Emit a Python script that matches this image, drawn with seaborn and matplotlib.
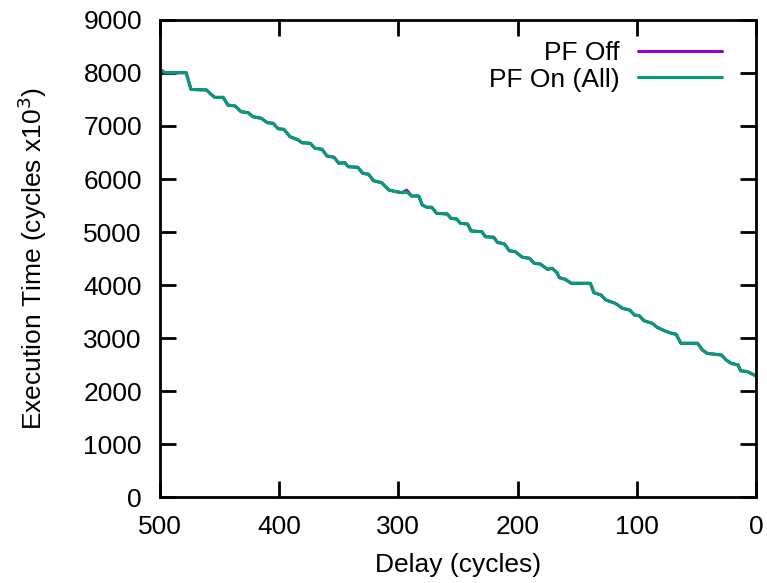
import matplotlib
matplotlib.use("Agg")
import matplotlib.pyplot as plt
import seaborn as sns
import pandas as pd

# delay (cycles) and execution time (cycles x10^3)
delay = [500, 498, 496, 478, 474, 461, 458, 454, 447, 443, 437, 432, 426, 422,
         415, 410, 405, 401, 396, 391, 384, 381, 374, 370, 364, 360, 354, 350,
         345, 342, 334, 330, 325, 321, 314, 308, 302, 297, 293, 289, 283, 280,
         276, 272, 268, 259, 256, 251, 248, 242, 239, 230, 227, 220, 217, 211,
         207, 202, 196, 190, 186, 181, 175, 171, 167, 165, 160, 155, 139, 136,
         130, 126, 118, 112, 106, 102, 98, 94, 87, 83, 77, 71, 67, 63, 49, 45,
         41, 29, 25, 21, 15, 13, 7, 0]

pf_off = [8050, 8040, 8005, 8005, 7690, 7680, 7615, 7540, 7540, 7395, 7378, 7270,
          7250, 7175, 7145, 7062, 7050, 6950, 6935, 6800, 6736, 6685, 6673, 6580,
          6560, 6435, 6410, 6296, 6308, 6232, 6221, 6108, 6090, 5968, 5930, 5792,
          5761, 5742, 5790, 5680, 5679, 5509, 5466, 5466, 5353, 5340, 5258, 5245,
          5164, 5151, 5019, 5006, 4911, 4900, 4806, 4774, 4647, 4628, 4523, 4504,
          4409, 4396, 4296, 4315, 4232, 4138, 4107, 4032, 4032, 3855, 3811, 3717,
          3654, 3560, 3528, 3434, 3420, 3326, 3277, 3202, 3138, 3089, 3070, 2900,
          2900, 2774, 2711, 2679, 2585, 2523, 2491, 2383, 2364, 2283]

pf_on = [8050, 8040, 8005, 8005, 7690, 7680, 7615, 7540, 7540, 7395, 7378, 7270,
         7250, 7175, 7145, 7062, 7050, 6950, 6935, 6800, 6736, 6685, 6673, 6580,
         6560, 6435, 6410, 6296, 6308, 6232, 6221, 6108, 6090, 5968, 5930, 5792,
         5761, 5742, 5755, 5680, 5679, 5509, 5466, 5466, 5353, 5340, 5258, 5245,
         5164, 5151, 5019, 5006, 4911, 4900, 4806, 4774, 4647, 4628, 4523, 4504,
         4409, 4396, 4296, 4315, 4232, 4138, 4107, 4032, 4032, 3855, 3811, 3717,
         3654, 3560, 3528, 3434, 3420, 3326, 3277, 3202, 3138, 3089, 3070, 2900,
         2900, 2774, 2711, 2679, 2585, 2523, 2491, 2383, 2364, 2283]

series = ["PF Off", "PF On (All)"]
colors = ["#9400D3", "#009E73"]

df = pd.concat([
    pd.DataFrame({"Delay": delay, "Time": pf_off, "Series": series[0]}),
    pd.DataFrame({"Delay": delay, "Time": pf_on, "Series": series[1]}),
])

sns.set_style("ticks")
plt.rcParams["font.family"] = ["Liberation Sans", "DejaVu Sans"]
plt.rcParams["text.color"] = "black"
plt.rcParams["axes.labelcolor"] = "black"
fs = 19

fig = plt.figure(figsize=(7.67, 5.83), dpi=100)
ax = fig.add_axes([0.2086, 0.1475, 0.7771, 0.8182])

sns.lineplot(data=df, x="Delay", y="Time", hue="Series", palette=colors,
             linewidth=2.2, ax=ax)

ax.set_xlim(500, 0)
ax.set_ylim(0, 9000)
ax.set_xticks(range(500, -1, -100))
ax.set_yticks(range(0, 9001, 1000))
ax.set_xlabel("Delay (cycles)", fontsize=fs, labelpad=10)
ax.set_ylabel("Execution Time (cycles x10$^3$)", fontsize=fs, labelpad=25)

for s in ax.spines.values():
    s.set_linewidth(2)
    s.set_color("black")
ax.tick_params(direction="in", length=11.5, width=2, labelsize=fs,
               top=True, right=True, colors="black", pad=13)

ax.legend(loc="upper right", frameon=False, markerfirst=False,
          handlelength=3.2, handletextpad=0.68, labelspacing=0.1,
          borderaxespad=0, fontsize=fs, bbox_to_anchor=(0.961, 0.978))

fig.savefig("out.png", dpi=100)
